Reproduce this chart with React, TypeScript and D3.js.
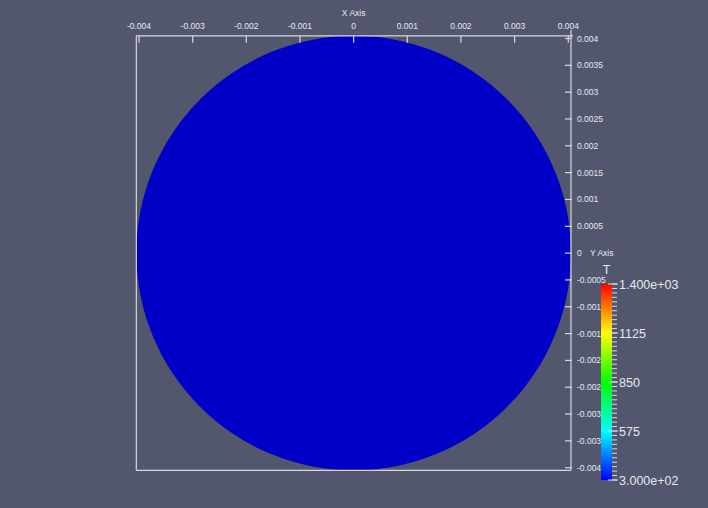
import React from "react";
import * as d3 from "d3";

const xTicks = [-0.004, -0.003, -0.002, -0.001, 0, 0.001, 0.002, 0.003, 0.004];
const xTickLabels = ["-0.004", "-0.003", "-0.002", "-0.001", "0", "0.001", "0.002", "0.003", "0.004"];
const yTicks = [0.004, 0.0035, 0.003, 0.0025, 0.002, 0.0015, 0.001, 0.0005, 0, -0.0005, -0.001, -0.0015, -0.002, -0.0025, -0.003, -0.0035, -0.004];
const yTickLabels = ["0.004", "0.0035", "0.003", "0.0025", "0.002", "0.0015", "0.001", "0.0005", "0", "-0.0005", "-0.001", "-0.0015", "-0.002", "-0.0025", "-0.003", "-0.0035", "-0.004"];
const radius = [0.00405];
const fieldValue = [300];
const colorDomain = [300, 1400];
const colorMajorTicks = [1400, 1125, 850, 575, 300];
const colorMajorLabels = ["1.400e+03", "1125", "850", "575", "3.000e+02"];

const W = 708, H = 508;
const BG = "#52576e";
const FG = "#e8e8ec";
const FONT = "'Liberation Sans', Arial, sans-serif";

export default function App() {
  const x = d3.scaleLinear().domain([-0.004, 0.004]).range([139, 568.3]);
  const y = d3.scaleLinear().domain([-0.004, 0.004]).range([467.7, 38.5]);
  const R = radius[0];
  const left = x(-R), right = x(R), top = y(R), bottom = y(-R);

  const cy = d3.scaleLinear().domain(colorDomain).range([480, 284]);
  const colorOf = (v: number) => {
    const t = (v - colorDomain[0]) / (colorDomain[1] - colorDomain[0]);
    return d3.hsl(240 * (1 - t), 1, 0.5).toString();
  };
  const minorTicks = d3.range(colorDomain[0], colorDomain[1] + 0.1, 25);
  const stops = d3.range(0, 1.0001, 1 / 64);

  return (
    <svg width={W} height={H} style={{ position: "absolute", left: 0, top: 0, display: "block" }}>
      <defs>
        <linearGradient id="cbar" x1="0" y1="1" x2="0" y2="0">
          {stops.map((t, i) => (
            <stop key={i} offset={t} stopColor={colorOf(colorDomain[0] + t * (colorDomain[1] - colorDomain[0]))} />
          ))}
        </linearGradient>
      </defs>
      <rect x={0} y={0} width={W} height={H} fill={BG} />

      {/* disk */}
      <ellipse cx={x(0)} cy={y(0)} rx={x(R) - x(0)} ry={y(0) - y(R)} fill="#0000c6" />
      {/* field value unused for color shading, kept as data */}
      <g data-field={fieldValue[0]} />

      {/* bounding box */}
      <g stroke="#d8d8dc" strokeWidth={1.2} fill="none">
        <line x1={left} y1={top} x2={right + 2} y2={top} />
        <line x1={left} y1={top} x2={left} y2={bottom} />
        <line x1={left} y1={bottom} x2={right} y2={bottom} />
        <line x1={right} y1={top - 6} x2={right} y2={bottom} />
      </g>

      {/* x ticks */}
      {xTicks.map((v, i) => (
        <g key={"x" + i}>
          <line x1={x(v)} x2={x(v)} y1={top} y2={top + 7} stroke="#d8d8dc" strokeWidth={1.2} />
          <text x={x(v)} y={29} textAnchor="middle" fontSize={8.5} fill={FG} fontFamily={FONT}>
            {xTickLabels[i]}
          </text>
        </g>
      ))}
      <text x={x(0)} y={16} textAnchor="middle" fontSize={8.5} fill={FG} fontFamily={FONT}>X Axis</text>

      {/* y ticks */}
      {yTicks.map((v, i) => (
        <g key={"y" + i}>
          <line x1={right - 6} x2={right + 1} y1={y(v)} y2={y(v)} stroke="#d8d8dc" strokeWidth={1.2} />
          <text x={577} y={y(v) + 3} textAnchor="start" fontSize={8.5} fill={FG} fontFamily={FONT}>
            {yTickLabels[i]}
          </text>
        </g>
      ))}
      <text x={590} y={y(0) + 3} fontSize={8.5} fill={FG} fontFamily={FONT}>Y Axis</text>

      {/* color legend */}
      <rect x={601} y={cy(colorDomain[1])} width={11} height={cy(colorDomain[0]) - cy(colorDomain[1])} fill="url(#cbar)" />
      {minorTicks.map((v, i) => (
        <line key={"m" + i} x1={612} x2={617} y1={cy(v)} y2={cy(v)} stroke="#d8d8dc" strokeWidth={1} />
      ))}
      {colorMajorTicks.map((v, i) => (
        <g key={"c" + i}>
          <line x1={608} x2={618} y1={cy(v)} y2={cy(v)} stroke="#d8d8dc" strokeWidth={1} />
          <text x={619} y={cy(v) + 4.5} fontSize={12.5} fill={FG} fontFamily={FONT}>
            {colorMajorLabels[i]}
          </text>
        </g>
      ))}
      <text x={606.5} y={274} textAnchor="middle" fontSize={12.5} fill={FG} fontFamily={FONT}>T</text>
    </svg>
  );
}
